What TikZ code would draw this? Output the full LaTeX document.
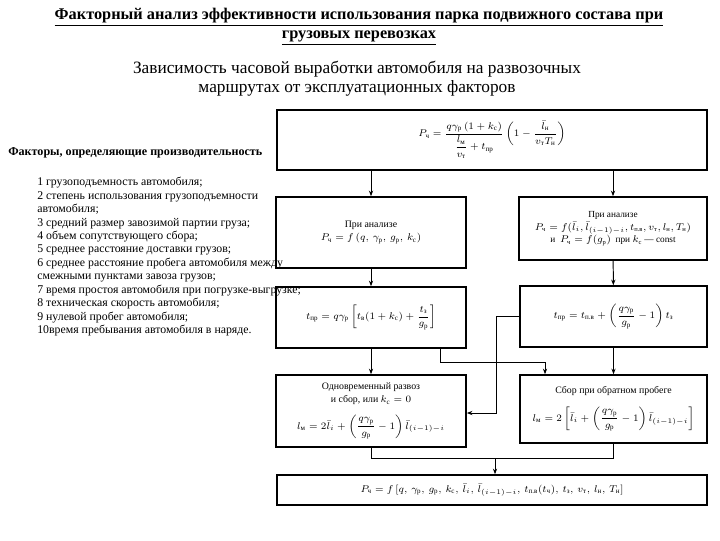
\documentclass[tikz,border=0pt]{standalone}
\usepackage{amsmath}
\usepackage{fontspec}
\setmainfont{Liberation Serif}
\usetikzlibrary{arrows.meta,positioning}
\newcommand{\sbr}[1]{\text{#1}}

\begin{document}
\begin{tikzpicture}[
  x=0.025cm, y=-0.025cm,
  blockbox/.style={draw=black, line width=1.1pt, align=center, inner sep=2pt,
    font=\fontsize{7}{9.5}\selectfont},
  link/.style={line width=0.7pt},
  arr/.style={line width=0.7pt, -{Stealth[length=4pt,width=3pt]}},
  heading/.style={font=\fontsize{11.6}{13.6}\selectfont\bfseries, align=center},
  subheading/.style={font=\fontsize{12.3}{13.6}\selectfont, align=center},
  factlist/.style={font=\fontsize{8.4}{9.55}\selectfont, align=left, inner sep=0pt}
]
\useasboundingbox (0,0) rectangle (720,540);

\node[heading] (title) at (359,27) {\underline{Факторный анализ эффективности использования парка подвижного состава при}\\
  \underline{грузовых перевозках}};
\node[subheading] (sub) at (357,79) {Зависимость часовой выработки автомобиля на развозочных\\
  маршрутах от эксплуатационных факторов};

\node[blockbox, minimum width=10.75cm, minimum height=1.5cm] (top) at (492,140)
  {$P_{\sbr{ч}}=\dfrac{q\gamma_{\sbr{р}}\,(1+k_{\sbr{с}})}{\dfrac{l_{\sbr{м}}}{v_{\sbr{т}}}+t_{\sbr{пр}}}
   \left(1-\dfrac{\bar l_{\sbr{н}}}{v_{\sbr{т}}T_{\sbr{н}}}\right)$};
\node[blockbox, minimum width=4.75cm, minimum height=1.775cm] (anl) at (371,232.5)
  {При анализе\\ $P_{\sbr{ч}}=f\,(q,\,\gamma_{\sbr{р}},\,g_{\sbr{р}},\,k_{\sbr{с}})$};
\node[blockbox, minimum width=4.7cm, minimum height=1.575cm, font=\fontsize{6.6}{9}\selectfont] (anr) at (613,228.5)
  {При анализе\\ $P_{\sbr{ч}}=f(\bar l_i,\bar l_{(i-1)-i},t_{\sbr{п.в}},v_{\sbr{т}},l_{\sbr{н}},T_{\sbr{н}})$\\
   и \ $P_{\sbr{ч}}=f(g_{\sbr{р}})$ \ при $k_{\sbr{с}}$ --- const};
\node[blockbox, minimum width=4.75cm, minimum height=1.525cm] (tpl) at (371,317.5)
  {$t_{\sbr{пр}}=q\gamma_{\sbr{р}}\left[t_{\sbr{в}}(1+k_{\sbr{с}})+\dfrac{t_{\sbr{з}}}{g_{\sbr{р}}}\right]$};
\node[blockbox, minimum width=4.675cm, minimum height=1.525cm] (tpr) at (613.5,316.5)
  {$t_{\sbr{пр}}=t_{\sbr{п.в}}+\left(\dfrac{q\gamma_{\sbr{р}}}{g_{\sbr{р}}}-1\right)t_{\sbr{з}}$};
\node[blockbox, minimum width=4.75cm, minimum height=1.8cm] (lml) at (371,411)
  {Одновременный развоз\\ и сбор, или $k_{\sbr{с}}=0$\\[6pt]
   $l_{\sbr{м}}=2\bar l_i+\left(\dfrac{q\gamma_{\sbr{р}}}{g_{\sbr{р}}}-1\right)\bar l_{(i-1)-i}$};
\node[blockbox, minimum width=4.675cm, minimum height=1.7cm] (lmr) at (613.5,409)
  {Сбор при обратном пробеге\\[7pt]
   $l_{\sbr{м}}=2\left[\bar l_i+\left(\dfrac{q\gamma_{\sbr{р}}}{g_{\sbr{р}}}-1\right)\bar l_{(i-1)-i}\right]$};
\node[blockbox, minimum width=10.75cm, minimum height=0.75cm] (res) at (492,490)
  {$P_{\sbr{ч}}=f\,[q,\,\gamma_{\sbr{р}},\,g_{\sbr{р}},\,k_{\sbr{с}},\,\bar l_i,\,\bar l_{(i-1)-i},\,
   t_{\sbr{п.в}}(t_{\sbr{ч}}),\,t_{\sbr{з}},\,v_{\sbr{т}},\,l_{\sbr{н}},\,T_{\sbr{н}}]$};

\node[anchor=west, inner sep=0pt, font=\fontsize{8.6}{10}\selectfont\bfseries] (facts) at (8,153)
  {Факторы, определяющие производительность};
\node[factlist, anchor=north west] (list) at (37,177)
  {1 грузоподъемность автомобиля;\\
   2 степень использования грузоподъемности\\
   автомобиля;\\
   3 средний размер завозимой партии груза;\\
   4 объем сопутствующего сбора;\\
   5 среднее расстояние доставки грузов;\\
   6 среднее расстояние пробега автомобиля между\\
   смежными пунктами завоза грузов;\\
   7 время простоя автомобиля при погрузке-выгрузке;\\
   8 техническая скорость автомобиля;\\
   9 нулевой пробег автомобиля;\\
   10время пребывания автомобиля в наряде.};

\coordinate (ja) at (440,362);
\coordinate (jb) at (545,362);
\coordinate (jc) at (496,413);
\coordinate (jd) at (495,458);

\draw[arr] (top.south -| anl.north) -- (anl.north);
\draw[arr] (top.south -| anr.north) -- (anr.north);
\draw[arr] (anl) -- (tpl);
\draw[arr] (anr) -- (tpr);
\draw[arr] (tpl) -- (lml);
\draw[arr] (tpr) -- (lmr);
\draw[arr] (tpl.south -| ja) -- (ja) -- (jb) -- (lmr.north -| jb);
\draw[arr] (tpr.west) -| (jc) -- (lml.east |- jc);
\draw[link] (lml.south) |- (jd);
\draw[link] (lmr.south) |- (jd);
\draw[arr] (jd) -- (res.north -| jd);
\end{tikzpicture}
\end{document}
